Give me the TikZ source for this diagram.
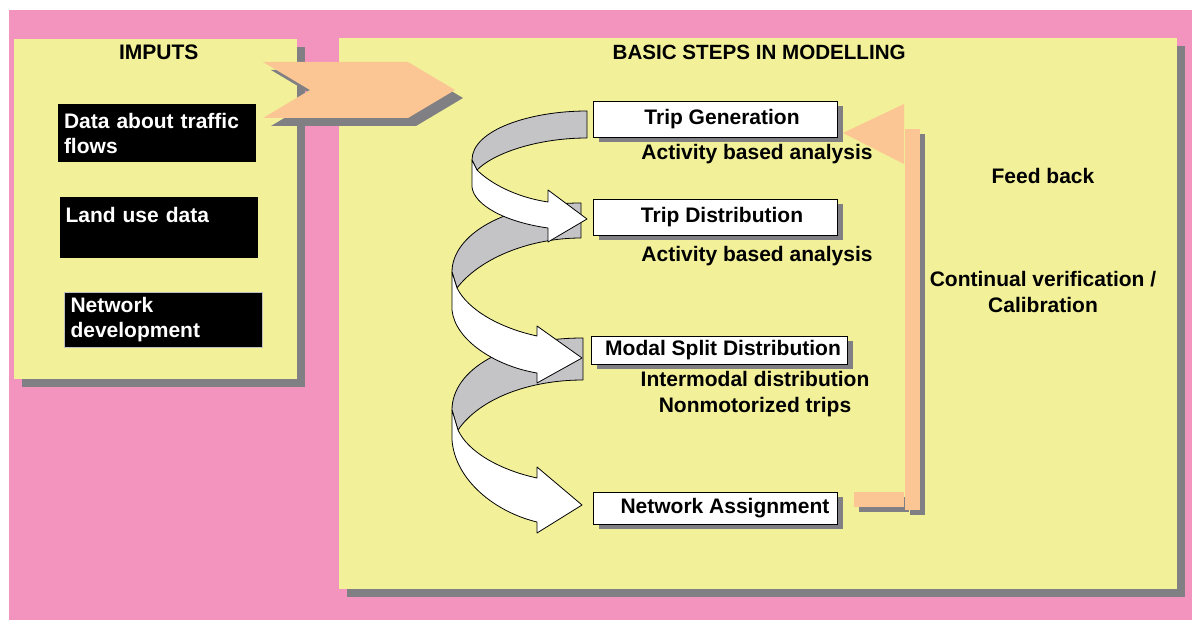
\documentclass[tikz,border=0pt]{standalone}
\usepackage{fontspec}
\setmainfont{Liberation Sans}
\usetikzlibrary{positioning,calc,shadows}
\definecolor{pinkbg}{RGB}{243,148,190}
\definecolor{panelyellow}{RGB}{242,240,152}
\definecolor{shadowgray}{RGB}{128,128,132}
\definecolor{peach}{RGB}{251,198,148}
\definecolor{ribbongray}{RGB}{196,196,198}
\newcommand\stepfont{\bfseries\fontsize{21}{26}\selectfont}

\begin{document}
\begin{tikzpicture}[x=1pt,y=-1pt,every node/.style={font=\stepfont,inner sep=0pt},
        shade8/.style={general shadow={fill=shadowgray,shadow xshift=8pt,shadow yshift=-8pt}},
        shade5/.style={general shadow={fill=shadowgray,shadow xshift=5pt,shadow yshift=-5pt}},
        panelbox/.style={fill=panelyellow,shade8,anchor=north west},
        darkbox/.style={fill=black,text=white,text width=186pt,inner xsep=6pt,align=left,
                        font=\bfseries\fontsize{21}{25}\selectfont},
        stepbox/.style={draw,fill=white,line width=.8pt,minimum width=244pt,minimum height=36pt,
                        general shadow={fill=shadowgray,shadow xshift=6pt,shadow yshift=-5pt}},
        back/.style={draw,fill=ribbongray,line width=.8pt,line join=round},
        front/.style={draw,fill=white,line width=.8pt,line join=round}]
   \fill[white] (0,0) rectangle (1192,620);
   \useasboundingbox (0,0) rectangle (1192,620);
   \fill[pinkbg] (9,10) rectangle (1192,620);
   \node[panelbox,minimum width=283pt,minimum height=340pt] (inputs) at (14,39) {};
   \node[panelbox,minimum width=838pt,minimum height=551pt] (steps) at (339,38) {};
   \node[anchor=base] (inputs title) at ($(inputs.north)+(3,21)$) {IMPUTS};
   \node[anchor=base,font=\bfseries\fontsize{20.6}{26}\selectfont] (steps title) at ($(steps.north)+(1,22)$) {BASIC STEPS IN MODELLING};
   \fill[peach,shade8] (263,62) -- (408,62) -- (455,90) -- (408,118) -- (263,118) -- (310,90) -- cycle;
   \node[darkbox,minimum height=58pt] (traffic) at (157,133) {Data about traffic\\flows};
   \node[darkbox,minimum height=61pt] (landuse) at (158.5,227.5) {Land use data\\~};
   \node[darkbox,minimum height=55pt,draw=white!75!black,thin] (network) at (163.5,319.5) {Network\\development};
   \draw[back] (587,111) .. controls (530,111) and (472,130) .. (472,160) -- (477,170)
                 .. controls (495,152) and (540,138) .. (587,138) -- cycle;
   \draw[back] (581,203) .. controls (505,203) and (452,235) .. (452,272) -- (457,288)
                 .. controls (480,258) and (530,238) .. (581,238) -- cycle;
   \draw[back] (583,338) .. controls (505,338) and (452,370) .. (452,410) -- (458,430)
                 .. controls (480,398) and (530,380) .. (583,380) -- cycle;
   \draw[front] (472,160) -- (472,187) .. controls (474,205) and (505,222) .. (548,228) -- (548,242)
                 -- (587,219) -- (548,190) -- (548,202) .. controls (515,197) and (490,183) .. (477,170) -- cycle;
   \draw[front] (452,272) -- (452,310) .. controls (455,340) and (495,366) .. (537,373) -- (537,383)
                 -- (582,358) -- (537,326) -- (537,336) .. controls (500,328) and (468,310) .. (457,288) -- cycle;
   \draw[front] (452,410) -- (452,440) .. controls (455,480) and (495,512) .. (537,522) -- (537,533)
                 -- (582,505) -- (537,467) -- (537,478) .. controls (500,470) and (468,452) .. (458,430) -- cycle;
   \node[stepbox] (gen) at (715,119) {\hspace*{14pt}Trip Generation};
   \node[stepbox] (dist) at (715,217) {\hspace*{14pt}Trip Distribution};
   \node[stepbox,minimum width=256pt,minimum height=28pt] (modal) at (719,350) {\hspace*{8pt}Modal Split Distribution};
   \node[stepbox,minimum height=32pt] (assign) at (715,508) {\hspace*{20pt}Network Assignment};
   \node[anchor=base] (gen act) at (757,160) {Activity based analysis};
   \node[anchor=base] (dist act) at (757,262) {Activity based analysis};
   \node[anchor=base,align=center] (modal sub) at (755,413) {Intermodal distribution\\Nonmotorized trips};
   \fill[peach,shade5] (854,492) rectangle (904,507);
   \fill[peach,shade5] (905,129) rectangle (920,510);
   \fill[peach] (843,133) -- (904,104) -- (904,164) -- cycle;
   \node[anchor=base] (feed) at (1043,184) {Feed back};
   \node[anchor=base,align=center] (calib) at (1043,313) {Continual verification /\\Calibration};
\end{tikzpicture}
\end{document}
